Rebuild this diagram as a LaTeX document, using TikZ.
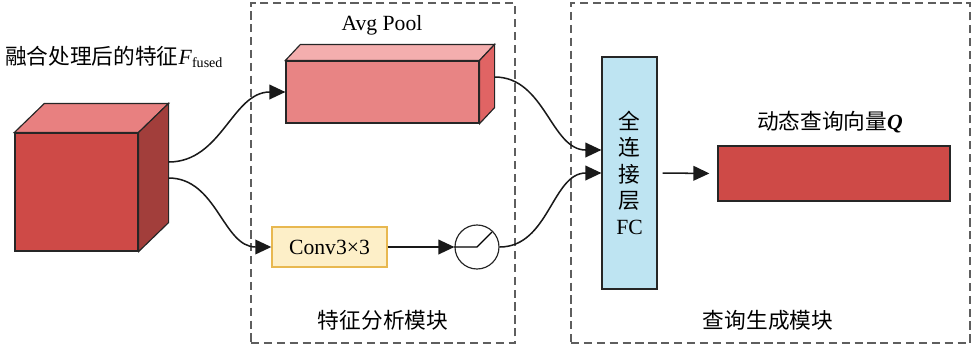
\documentclass[tikz,border=0pt]{standalone}
\usepackage{amsmath}
\usepackage{fontspec}
\setmainfont{Liberation Serif}
\newfontfamily\cjk{Noto Sans CJK SC}
\usepackage{tikz}
\usetikzlibrary{positioning,calc,arrows.meta}
\definecolor{CubeFront}{HTML}{CE4A47}
\definecolor{CubeTop}{HTML}{E88080}
\definecolor{CubeSide}{HTML}{A23E3B}
\definecolor{PoolFront}{HTML}{E88484}
\definecolor{PoolTop}{HTML}{F4AEAE}
\definecolor{PoolSide}{HTML}{E06464}
\definecolor{ConvFill}{HTML}{FDEFC8}
\definecolor{ConvLine}{HTML}{E8B850}
\definecolor{FCBlue}{HTML}{BEE4F2}
\definecolor{GrpGray}{HTML}{5E5E5E}

\begin{document}
\begin{tikzpicture}[x=0.03cm,y=-0.03cm]
	\tikzset{
		txt/.style={font=\fontsize{18.5}{22.5}\selectfont, inner sep=0pt},
		grp/.style={draw=GrpGray, line width=1.8pt, dash pattern=on 7pt off 4pt,
			minimum height=10.2cm, inner sep=0pt},
		face/.style={draw=black!85, line width=1pt},
		blk/.style={face, minimum width=#1, inner sep=0pt},
		conv/.style={draw=ConvLine, line width=1.2pt, fill=ConvFill,
			minimum width=3.45cm, minimum height=1.2cm, txt},
		act/.style={circle, draw=black!85, line width=1pt, minimum size=1.32cm, inner sep=0pt},
		arr/.style={draw=black!90, line width=1.3pt, -{Triangle[length=0.48cm, width=0.44cm]}}
	}
	\useasboundingbox (0,0) rectangle (972,350);
	
	% module frames
	\node[grp, minimum width=7.92cm] (mod1) at (383,173) {};
	\node[grp, minimum width=11.97cm] (mod2) at (770.5,173) {};
	\node[txt] (mod1lbl) at (383,320) {\cjk 特征分析模块};
	\node[txt] (mod2lbl) at (768,320) {\cjk 查询生成模块};
	
	% fused feature cube
	\node[blk=3.69cm, minimum height=3.54cm, fill=CubeFront] (feat) at (76.5,192) {};
	\draw[face, fill=CubeTop] (feat.north west) -- ++(30,-29) -- ($(feat.north east)+(30,-29)$) -- (feat.north east) -- cycle;
	\draw[face, fill=CubeSide] (feat.north east) -- ++(30,-29) -- ($(feat.south east)+(30,-29)$) -- (feat.south east) -- cycle;
	\node[txt, anchor=west] (featlbl) at (5,57) {{\cjk 融合处理后的特征}\textit{F}\textsubscript{\fontsize{12}{12}\selectfont fused}};
	\coordinate (feat1) at ($(feat.east)+(30,-30)$);
	\coordinate (feat2) at ($(feat.east)+(30,-14)$);
	
	% avg pool bar
	\node[blk=5.79cm, minimum height=1.86cm, fill=PoolFront] (pool) at (382.5,92) {};
	\draw[face, fill=PoolTop] (pool.north west) -- ++(15,-16) -- ($(pool.north east)+(15,-16)$) -- (pool.north east) -- cycle;
	\draw[face, fill=PoolSide] (pool.north east) -- ++(15,-16) -- ($(pool.south east)+(15,-16)$) -- (pool.south east) -- cycle;
	\node[txt] (poollbl) at (382,25) {Avg Pool};
	\coordinate (pool1) at ($(pool.east)+(15,-15)$);
	
	% conv + activation
	\node[conv] (conv) at (329.5,247) {Conv3×3};
	\node[act] (relu) at (477,247) {};
	\draw[line width=1pt] (relu.west) -- (relu.center) -- ++(15,-15);
	
	% fully connected layer and query
	\node[blk=1.65cm, minimum height=6.96cm, fill=FCBlue, txt, align=center] (fc) at (629.5,173)
		{{\cjk 全}\\{\cjk 连}\\{\cjk 接}\\{\cjk 层}\\FC};
	\coordinate (fc1) at ($(fc.west)+(0,-23)$);
	\node[blk=6.96cm, minimum height=1.65cm, fill=CubeFront] (q) at (834,173.5) {};
	\node[txt] (qlbl) at (830,122) {{\cjk 动态查询向量}\textbf{\textit{Q}}};
	
	\draw[arr] (feat1) to[out=0, in=180] (pool.west);
	\draw[arr] (feat2) to[out=0, in=180] (conv.west);
	\draw[arr] (conv.east) -- (relu.west);
	\draw[arr] (pool1) to[out=0, in=180] (fc1);
	\draw[arr] (relu.east) to[out=0, in=180] (fc.west);
	\draw[arr, shorten <=0.15cm, shorten >=0.24cm] (fc.east) -- (q.west);
\end{tikzpicture}
\end{document}
